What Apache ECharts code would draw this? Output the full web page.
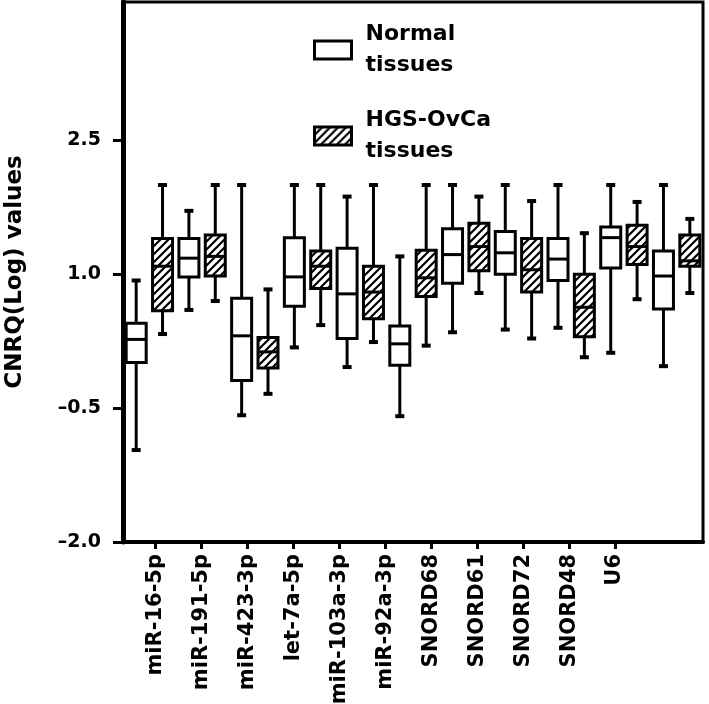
<!DOCTYPE html>
<html>
<head>
<meta charset="utf-8">
<script src="https://cdn.jsdelivr.net/npm/echarts@6/dist/echarts.min.js"></script>
<style>
html,body{margin:0;padding:0;background:#fff;}
#chart{width:709px;height:704px;}
</style>
</head>
<body>
<div id="chart"></div>
<script>
// ---- data ----
const genes = ['miR-16-5p','miR-191-5p','miR-423-3p','let-7a-5p','miR-103a-3p','miR-92a-3p','SNORD68','SNORD61','SNORD72','SNORD48','U6'];
const groups = ['Normal','HGS-OvCa'];
// [min, q1, median, q3, max]
const normalBoxes = [
  [-0.97, 0.01, 0.27, 0.45, 0.93],
  [0.60, 0.97, 1.18, 1.40, 1.71],
  [-0.58, -0.19, 0.31, 0.73, 2.0],
  [0.18, 0.64, 0.97, 1.41, 2.0],
  [-0.04, 0.28, 0.78, 1.29, 1.87],
  [-0.59, -0.02, 0.22, 0.42, 1.20],
  [0.35, 0.90, 1.22, 1.51, 2.0],
  [0.38, 1.00, 1.24, 1.48, 2.0],
  [0.40, 0.93, 1.17, 1.40, 2.0],
  [0.12, 1.07, 1.41, 1.53, 2.0],
  [-0.03, 0.61, 0.98, 1.26, 2.0]
];
const tumorBoxes = [
  [0.33, 0.59, 1.09, 1.40, 2.0],
  [0.70, 0.98, 1.20, 1.44, 2.0],
  [-0.34, -0.05, 0.13, 0.29, 0.83],
  [0.43, 0.84, 1.09, 1.26, 2.0],
  [0.24, 0.50, 0.80, 1.09, 2.0],
  [0.20, 0.75, 0.96, 1.27, 2.0],
  [0.79, 1.04, 1.31, 1.57, 1.87],
  [0.28, 0.80, 1.05, 1.40, 1.82],
  [0.07, 0.30, 0.63, 1.00, 1.46],
  [0.72, 1.11, 1.31, 1.55, 1.81],
  [0.79, 1.09, 1.15, 1.44, 1.62]
];
const yTicks = [-2.0, -0.5, 1.0, 2.5];
const yTitle = 'CNRQ(Log) values';

// ---- build ----
const slots = [];
genes.forEach(g => { slots.push(g + ' N'); slots.push(g + ' T'); });

function makeHatch() {
  const s = 8;
  const c = document.createElement('canvas');
  c.width = s; c.height = s;
  const ctx = c.getContext('2d');
  ctx.fillStyle = '#fff';
  ctx.fillRect(0, 0, s, s);
  ctx.strokeStyle = '#000';
  ctx.lineWidth = 2.2;
  ctx.beginPath();
  ctx.moveTo(-1, s + 1); ctx.lineTo(s + 1, -1);
  ctx.moveTo(-2, 2); ctx.lineTo(2, -2);
  ctx.moveTo(s - 2, s + 2); ctx.lineTo(s + 2, s - 2);
  ctx.stroke();
  return c;
}
const hatch = { image: makeHatch(), repeat: 'repeat' };
const fills = ['#ffffff', hatch];

function toData(arr, offset) {
  return arr.map((b, i) => [i * 2 + offset, b[0], b[1], b[2], b[3], b[4]]);
}

function renderBox(params, api) {
  const x = api.value(0);
  const pMin = api.coord([x, api.value(1)]);
  const pQ1 = api.coord([x, api.value(2)]);
  const pMed = api.coord([x, api.value(3)]);
  const pQ3 = api.coord([x, api.value(4)]);
  const pMax = api.coord([x, api.value(5)]);
  const cx = pMin[0];
  const bw = 20, cw = 9;
  const ln = { stroke: '#000', lineWidth: 3 };
  return {
    type: 'group',
    children: [
      { type: 'line', shape: { x1: cx, y1: pMax[1], x2: cx, y2: pQ3[1] }, style: ln },
      { type: 'line', shape: { x1: cx, y1: pQ1[1], x2: cx, y2: pMin[1] }, style: ln },
      { type: 'line', shape: { x1: cx - cw / 2, y1: pMax[1], x2: cx + cw / 2, y2: pMax[1] }, style: { stroke: '#000', lineWidth: 4 } },
      { type: 'line', shape: { x1: cx - cw / 2, y1: pMin[1], x2: cx + cw / 2, y2: pMin[1] }, style: { stroke: '#000', lineWidth: 4 } },
      { type: 'rect', shape: { x: cx - bw / 2, y: pQ3[1], width: bw, height: pQ1[1] - pQ3[1] },
        style: { fill: fills[params.seriesIndex], stroke: '#000', lineWidth: 3 } },
      { type: 'line', shape: { x1: cx - bw / 2, y1: pMed[1], x2: cx + bw / 2, y2: pMed[1] }, style: ln }
    ]
  };
}

const FONT = 'DejaVu Sans';
const chart = echarts.init(document.getElementById('chart'), null, { renderer: 'canvas' });
chart.setOption({
  animation: false,
  backgroundColor: '#fff',
  textStyle: { fontFamily: FONT },
  grid: {
    left: 123, right: 6, top: 2, bottom: 162,
    outerBoundsMode: 'none', containLabel: false,
    show: true, borderColor: '#000', borderWidth: 3, backgroundColor: 'transparent'
  },
  legend: {
    orient: 'vertical',
    left: 308, top: 14,
    icon: 'rect',
    itemWidth: 37, itemHeight: 18,
    itemGap: 24,
    selectedMode: false,
    data: [
      { name: groups[0], itemStyle: { color: fills[0], borderColor: '#000', borderWidth: 3 } },
      { name: groups[1], itemStyle: { color: hatch, borderColor: '#000', borderWidth: 3 } }
    ],
    formatter: n => n + '\ntissues',
    textStyle: { fontFamily: FONT, fontWeight: 'bold', fontSize: 22, lineHeight: 31, color: '#000', padding: [0, 0, 0, 9] }
  },
  xAxis: [
    {
      type: 'category', data: slots, position: 'bottom',
      axisLine: { show: false }, axisTick: { show: false }, axisLabel: { show: false }, splitLine: { show: false }
    },
    {
      type: 'value', position: 'bottom', min: -0.712, max: 11.916,
      axisLine: { show: true, onZero: false, lineStyle: { color: '#000', width: 4 } },
      axisTick: { show: true, customValues: genes.map((g, i) => i), length: 7, lineStyle: { color: '#000', width: 3 } },
      axisLabel: {
        customValues: genes.map((g, i) => i),
        formatter: v => genes[Math.round(v)],
        rotate: 90, margin: 12,
        fontFamily: FONT, fontWeight: 'bold', fontSize: 21, color: '#000'
      },
      splitLine: { show: false }
    }
  ],
  yAxis: {
    type: 'value', min: -2, max: 4.05,
    name: yTitle, nameLocation: 'middle', nameGap: 96,
    nameTextStyle: { fontFamily: FONT, fontWeight: 'bold', fontSize: 23, color: '#000' },
    axisLine: { show: true, onZero: false, lineStyle: { color: '#000', width: 5 } },
    axisTick: { show: true, customValues: yTicks, length: 10, lineStyle: { color: '#000', width: 3 } },
    axisLabel: {
      customValues: yTicks,
      formatter: v => v.toFixed(1).replace('-', '\u2013'),
      margin: 22,
      fontFamily: FONT, fontWeight: 'bold', fontSize: 19, color: '#000'
    },
    splitLine: { show: false }
  },
  series: [
    {
      name: groups[0], type: 'custom', xAxisIndex: 0, renderItem: renderBox,
      itemStyle: { color: fills[0], borderColor: '#000' },
      encode: { x: 0, y: [1, 2, 3, 4, 5] },
      data: toData(normalBoxes, 0)
    },
    {
      name: groups[1], type: 'custom', xAxisIndex: 0, renderItem: renderBox,
      itemStyle: { color: hatch, borderColor: '#000' },
      encode: { x: 0, y: [1, 2, 3, 4, 5] },
      data: toData(tumorBoxes, 1)
    }
  ]
});
</script>
</body>
</html>
